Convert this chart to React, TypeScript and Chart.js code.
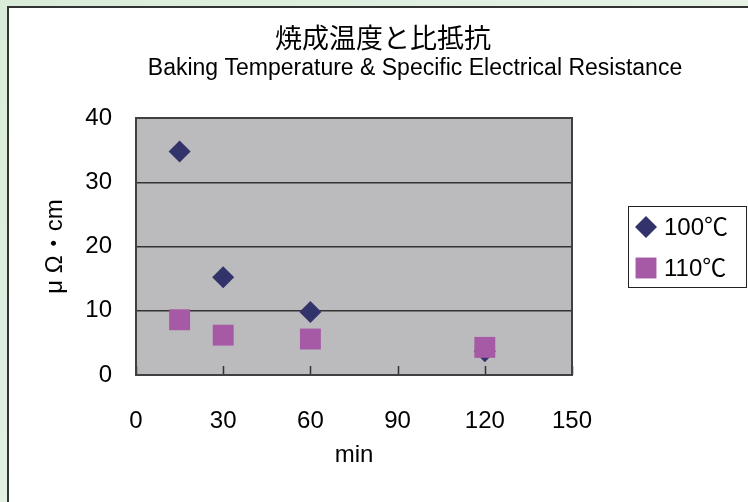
import React, { useEffect, useRef } from "react";
import Chart from "chart.js/auto";
import { drawPoint } from "chart.js/helpers";

const titleText = "焼成温度と比抵抗";
const subtitleText = "Baking Temperature & Specific Electrical Resistance";
const xTitle = "min";
const yTitle = "μ Ω・cm";

const seriesNames = ["100℃", "110℃"];
const minutes = [15, 30, 60, 120];
const values100 = [34.8, 15.2, 9.8, 3.7];
const values110 = [8.6, 6.2, 5.6, 4.3];

const NAVY = "#33336b";
const VIOLET = "#a65aa6";
const PLOT_BG = "#bbbbbd";
const FONT = '"Liberation Sans", "Noto Sans CJK JP", sans-serif';

const decorPlugin = {
  id: "decor",
  beforeDraw(chart: any) {
    const { ctx, chartArea: a } = chart;
    ctx.save();
    ctx.fillStyle = PLOT_BG;
    ctx.fillRect(a.left, a.top, a.right - a.left, a.bottom - a.top);
    ctx.restore();
  },
  beforeDatasetsDraw(chart: any) {
    const { ctx, chartArea: a } = chart;
    const xs = chart.scales.x;
    ctx.save();
    ctx.strokeStyle = "#333";
    ctx.lineWidth = 1.5;
    ctx.beginPath();
    xs.ticks.forEach((t: any) => {
      const px = Math.round(xs.getPixelForValue(t.value)) + 0.5;
      ctx.moveTo(px, a.bottom);
      ctx.lineTo(px, a.bottom - 9);
    });
    ctx.stroke();
    ctx.lineWidth = 2;
    ctx.strokeStyle = "#404040";
    ctx.strokeRect(a.left, a.top, a.right - a.left, a.bottom - a.top);
    ctx.restore();
  },
  afterDraw(chart: any) {
    const { ctx } = chart;
    ctx.save();
    ctx.fillStyle = "#000";
    ctx.textAlign = "center";
    ctx.textBaseline = "middle";
    ctx.font = '27px "Noto Sans CJK JP", sans-serif';
    ctx.fillText(titleText, 383, 38);
    ctx.font = "23px " + FONT;
    ctx.textBaseline = "alphabetic";
    ctx.fillText(subtitleText, 415, 75);

    // legend box
    ctx.strokeStyle = "#222";
    ctx.lineWidth = 1;
    ctx.strokeRect(628.5, 206.5, 118, 81);
    const rows = [227, 268];
    chart.data.datasets.forEach((ds: any, i: number) => {
      ctx.fillStyle = ds.backgroundColor;
      ctx.strokeStyle = ds.borderColor;
      drawPoint(ctx, { pointStyle: ds.pointStyle, rotation: 0, radius: ds.pointRadius, borderWidth: 0 } as any, 646, rows[i]);
      ctx.fillStyle = "#000";
      ctx.textAlign = "left";
      ctx.textBaseline = "middle";
      ctx.font = "24px " + FONT;
      ctx.fillText(ds.label, 664, rows[i] + 1);
    });
    ctx.restore();
  },
};

export default function App() {
  const canvasRef = useRef<HTMLCanvasElement>(null);
  const chartRef = useRef<any>(null);

  useEffect(() => {
    if (chartRef.current) chartRef.current.destroy();
    const ctx = canvasRef.current?.getContext("2d");
    if (!ctx) return;

    chartRef.current = new Chart(ctx, {
      type: "scatter",
      data: {
        datasets: [
          {
            label: seriesNames[0],
            data: minutes.map((m, i) => ({ x: m, y: values100[i] })),
            pointStyle: "rectRot",
            pointRadius: 11,
            backgroundColor: NAVY,
            borderColor: NAVY,
            borderWidth: 0,
            order: 1,
          },
          {
            label: seriesNames[1],
            data: minutes.map((m, i) => ({ x: m, y: values110[i] })),
            pointStyle: "rect",
            pointRadius: 14.8,
            backgroundColor: VIOLET,
            borderColor: VIOLET,
            borderWidth: 0,
            order: 0,
          },
        ],
      },
      options: {
        animation: false,
        responsive: false,
        layout: { padding: { left: 0, top: 118, right: 176, bottom: 0 } },
        plugins: {
          legend: { display: false },
          title: { display: false },
          tooltip: { enabled: false },
        },
        scales: {
          x: {
            type: "linear",
            min: 0,
            max: 150,
            ticks: { stepSize: 30, color: "#000", padding: 24, font: { size: 24, family: FONT } },
            grid: { display: false },
            border: { display: false },
            title: {
              display: true,
              text: xTitle,
              color: "#000",
              font: { size: 24, family: FONT },
              padding: { top: 0, bottom: 32 },
            },
            afterFit: (s: any) => {
              s.height = 127;
            },
          },
          y: {
            min: 0,
            max: 40,
            ticks: { stepSize: 10, color: "#000", padding: 24, font: { size: 24, family: FONT } },
            grid: { color: "#333", lineWidth: 1.5, drawTicks: false },
            border: { display: false },
            title: {
              display: true,
              text: yTitle,
              color: "#000",
              font: { size: 24, family: FONT },
              padding: { top: 41, bottom: 0 },
            },
            afterFit: (s: any) => {
              s.width = 136;
            },
          },
        },
      },
      plugins: [decorPlugin],
    } as any);

    return () => {
      if (chartRef.current) {
        chartRef.current.destroy();
        chartRef.current = null;
      }
    };
  }, []);

  return (
    <div
      style={{
        position: "fixed",
        left: 0,
        top: 0,
        width: 748,
        height: 502,
        overflow: "hidden",
        background: "linear-gradient(135deg, #d9ecd9, #eef7ee)",
      }}
    >
      <div
        style={{
          position: "absolute",
          left: 7,
          top: 6,
          width: 780,
          height: 540,
          border: "2px solid #333",
          background: "#fff",
        }}
      />
      <canvas ref={canvasRef} width={748} height={502} style={{ position: "absolute", left: 0, top: 0 }} />
    </div>
  );
}
